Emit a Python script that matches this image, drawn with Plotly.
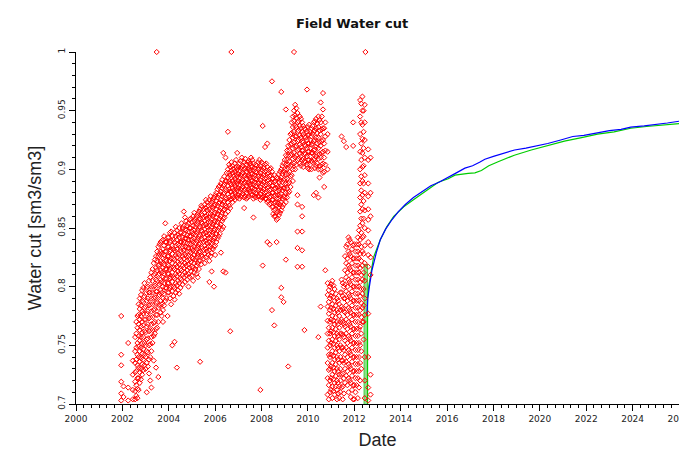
import plotly.graph_objects as go

# ---------------- data ----------------
# Observed water cut (red diamonds): (decimal year, [values observed around that date])
red_columns = [
    (2001.95, [.775, .742, .733, .719, .709, .703]),
    (2002.05, [.715, .706]),
    (2002.25, [.752, .714, .703]),
    (2002.45, [.737, .725, .712, .704]),
    (2002.55, [.757, .745, .735, .727, .719, .711, .704]),
    (2002.65, [.775, .765, .752, .742, .733, .722, .713, .705]),
    (2002.75, [.790, .781, .772, .763, .754, .745, .736, .727, .718]),
    (2002.85, [.797, .788, .779, .770, .761, .752, .743, .734, .725]),
    (2002.95, [.803, .792, .782, .772, .762, .752, .742, .733]),
    (2003.05, [.799, .788, .777, .766, .755, .745, .735, .710]),
    (2003.15, [.805, .795, .784, .773, .762, .750, .738, .726]),
    (2003.25, [.812, .800, .790, .779, .768, .757, .745, .714]),
    (2003.35, [.820, .810, .800, .790, .780, .769, .758, .737]),
    (2003.45, [.826, .816, .806, .796, .786, .776, .764, .731]),
    (2003.48, [1.0]),
    (2003.55, [.834, .826, .818, .810, .801, .792, .782, .770, .723]),
    (2003.65, [.838, .830, .822, .814, .806, .797, .788, .778]),
    (2003.75, [.840, .832, .824, .816, .808, .800, .790, .780, .770]),
    (2003.85, [.854, .838, .830, .823, .815, .807, .799, .788]),
    (2003.95, [.842, .834, .826, .819, .811, .803, .795, .775]),
    (2004.05, [.846, .838, .830, .822, .815, .807, .799, .790]),
    (2004.15, [.843, .835, .828, .820, .812, .804, .796, .750]),
    (2004.25, [.846, .838, .831, .823, .815, .807, .799, .789, .753]),
    (2004.35, [.848, .840, .832, .825, .817, .809, .801, .731]),
    (2004.45, [.850, .842, .835, .827, .819, .811, .803, .794]),
    (2004.55, [.854, .846, .838, .830, .822, .814, .806]),
    (2004.65, [.852, .845, .838, .831, .824, .816, .808, .864]),
    (2004.75, [.856, .848, .841, .834, .826, .818, .810]),
    (2004.85, [.854, .847, .840, .833, .826, .819, .811, .800]),
    (2004.95, [.858, .850, .843, .836, .829, .821, .813]),
    (2005.05, [.860, .852, .845, .838, .831, .824, .816, .805]),
    (2005.15, [.858, .851, .844, .837, .830, .823, .815]),
    (2005.25, [.862, .855, .848, .841, .834, .827, .820, .808]),
    (2005.35, [.866, .858, .851, .844, .837, .830, .822, .736]),
    (2005.45, [.868, .861, .854, .847, .840, .833, .826]),
    (2005.55, [.870, .863, .856, .849, .842, .835, .828, .820]),
    (2005.65, [.872, .865, .858, .851, .844, .837, .830]),
    (2005.75, [.874, .866, .859, .852, .845, .838, .831, .822, .804]),
    (2005.85, [.872, .865, .858, .851, .844, .837, .829, .813]),
    (2005.95, [.876, .869, .862, .855, .848, .841, .834, .800]),
    (2006.05, [.880, .873, .866, .859, .852, .845, .838]),
    (2006.15, [.885, .878, .871, .864, .857, .850, .843]),
    (2006.25, [.888, .881, .874, .867, .860, .853, .829]),
    (2006.35, [.914, .886, .879, .872, .865, .858, .851, .813]),
    (2006.45, [.910, .890, .883, .876, .869, .862, .812]),
    (2006.55, [.900, .893, .886, .879, .872, .864, .932]),
    (2006.65, [.902, .895, .888, .881, .874, .867, .762]),
    (2006.70, [1.0]),
    (2006.75, [.903, .897, .890, .884, .878, .872]),
    (2006.85, [.905, .898, .892, .886, .880, .874]),
    (2006.95, [.914, .900, .894, .888, .882, .876]),
    (2007.05, [.905, .899, .893, .887, .881, .875]),
    (2007.15, [.910, .902, .896, .890, .884, .878]),
    (2007.25, [.906, .900, .894, .888, .882, .876, .867]),
    (2007.35, [.904, .898, .892, .886, .880, .875]),
    (2007.45, [.907, .901, .895, .889, .883, .877]),
    (2007.55, [.910, .903, .897, .891, .885, .879]),
    (2007.65, [.905, .899, .893, .887, .881, .875, .859]),
    (2007.75, [.904, .898, .892, .886, .880, .876]),
    (2007.85, [.906, .900, .894, .888, .882, .877]),
    (2007.95, [.903, .897, .891, .885, .879, .874, .712]),
    (2008.05, [.937, .905, .899, .893, .887, .881, .876, .818]),
    (2008.15, [.904, .898, .892, .886, .880, .875, .919]),
    (2008.25, [.902, .896, .890, .884, .878, .872, .922, .838]),
    (2008.35, [.900, .894, .888, .882, .876, .870, .836]),
    (2008.45, [.975, .898, .892, .886, .880, .874, .868, .780]),
    (2008.55, [.895, .889, .883, .877, .871, .865, .860, .767]),
    (2008.65, [.893, .887, .881, .875, .869, .863, .857, .838]),
    (2008.75, [.896, .889, .882, .875, .868, .861]),
    (2008.85, [.966, .900, .893, .886, .879, .872, .865, .799, .791]),
    (2008.95, [.905, .898, .891, .884, .877, .870, .787]),
    (2009.05, [.951, .912, .904, .896, .888, .880, .872, .823]),
    (2009.15, [.920, .912, .904, .896, .888, .880, .732]),
    (2009.25, [.930, .921, .912, .903, .894, .885]),
    (2009.35, [.945, .936, .927, .918, .909, .900, .890]),
    (2009.40, [1.0]),
    (2009.45, [.955, .946, .937, .928, .919, .910, .900]),
    (2009.55, [.948, .940, .932, .924, .916, .908, .878, .870, .847, .833, .817]),
    (2009.65, [.945, .937, .929, .921, .913, .905]),
    (2009.75, [.940, .932, .924, .916, .908, .868, .860, .847, .831, .817]),
    (2009.85, [.935, .928, .921, .914, .907, .763]),
    (2009.96, [.968, .932, .925, .918, .911, .904]),
    (2010.05, [.938, .930, .922, .915, .908, .900]),
    (2010.15, [.935, .928, .921, .914, .907, .900]),
    (2010.25, [.940, .932, .924, .916, .908, .878]),
    (2010.35, [.943, .935, .927, .919, .911, .903, .880]),
    (2010.45, [.945, .936, .927, .918, .909, .900, .876, .757]),
    (2010.55, [.957, .940, .930, .920, .910, .900, .783]),
    (2010.65, [.965, .951, .935, .925, .915, .905, .897]),
    (2010.75, [.940, .928, .916, .904, .814]),
    (2010.85, [.930, .915, .900, .803, .793, .783, .771, .760, .748, .735, .722, .708]),
    (2010.95, [.800, .790, .780, .770, .760, .750, .740, .730, .720, .710]),
    (2011.05, [.805, .795, .785, .775, .765, .755, .745, .735, .725, .715, .705]),
    (2011.15, [.798, .788, .778, .768, .758, .748, .738, .728, .718, .708]),
    (2011.25, [.790, .780, .770, .760, .750, .740, .730, .720, .712, .704]),
    (2011.35, [.785, .775, .765, .755, .745, .735, .725, .715, .705]),
    (2011.45, [.928, .806, .795, .783, .772, .760, .748, .737, .725, .714]),
    (2011.55, [.924, .800, .790, .779, .768, .757, .746, .735, .722, .709]),
    (2011.65, [.919, .834, .820, .808, .796, .784, .772, .760, .748, .736, .724]),
    (2011.75, [.842, .830, .818, .806, .794, .782, .770, .758, .746, .734, .722, .710]),
    (2011.85, [.838, .826, .814, .802, .790, .778, .766, .754, .742, .730, .718, .706]),
    (2011.95, [.940, .920, .835, .824, .812, .800, .788, .776, .764, .752, .740, .728, .716, .704]),
    (2012.05, [.830, .818, .806, .794, .782, .770, .758, .746, .734, .722, .710]),
    (2012.15, [.842, .830, .818, .806, .794, .782, .770, .758, .746, .734, .722, .705]),
    (2012.25, [.959, .945, .930, .915, .900, .888, .876, .864, .852, .840, .828, .816,
               .804, .792, .780, .766, .750, .735, .720]),
    (2012.35, [.962, .950, .938, .926, .914, .902, .890, .878, .866, .854, .842, .830,
               .818, .806, .794, .782, .770]),
    (2012.45, [.955, .940, .925, .910, .895, .880, .865, .850, .835, .820, .805, .790,
               .776, .740, .720, .705]),
    (2012.48, [1.0]),
    (2012.60, [.917, .908, .888, .877, .866, .857, .848, .838, .827, .817, .777, .740, .714, .703]),
    (2012.70, [.910, .880, .860, .835, .825, .810, .725, .708]),
]

# Further observations read between the columns above
red_columns_b = [
    (2002.60, [.770, .760, .748, .738, .728, .716, .707]),
    (2002.70, [.785, .776, .768, .758, .749, .740, .731, .722, .712]),
    (2002.80, [.793, .784, .775, .766, .757, .748, .739, .730, .721]),
    (2002.90, [.799, .787, .777, .767, .757, .747, .738, .729]),
    (2003.00, [.794, .783, .772, .761, .750, .740, .730]),
    (2003.10, [.800, .790, .779, .768, .756, .744, .732]),
    (2003.20, [.808, .795, .785, .774, .763, .751, .740, .720]),
    (2003.30, [.815, .805, .795, .785, .774, .763, .752]),
    (2003.40, [.823, .811, .801, .791, .781, .770, .760]),
    (2003.50, [.830, .822, .814, .805, .796, .787, .776, .765]),
    (2003.60, [.836, .828, .819, .811, .802, .793, .784]),
    (2003.70, [.839, .828, .820, .812, .804, .795, .785, .775]),
    (2003.80, [.843, .835, .827, .819, .811, .803, .794, .784]),
    (2003.90, [.838, .830, .822, .815, .807, .799, .790]),
    (2004.00, [.842, .834, .826, .818, .811, .803, .795]),
    (2004.10, [.847, .839, .831, .824, .816, .808, .800, .785]),
    (2004.20, [.840, .832, .824, .816, .808, .800, .792]),
    (2004.30, [.851, .843, .835, .827, .819, .811, .803, .795]),
    (2004.40, [.844, .836, .828, .821, .813, .805, .797]),
    (2004.50, [.846, .838, .831, .823, .815, .807, .799]),
    (2004.60, [.850, .842, .834, .826, .818, .810, .802]),
    (2004.70, [.859, .849, .841, .834, .827, .820, .812, .804]),
    (2004.80, [.852, .844, .837, .830, .822, .814, .806]),
    (2004.90, [.857, .850, .843, .837, .830, .823, .816, .808]),
    (2005.00, [.855, .847, .840, .833, .825, .817, .809]),
    (2005.10, [.863, .856, .848, .841, .834, .827, .820, .812]),
    (2005.20, [.860, .853, .846, .839, .832, .825, .818, .811]),
    (2005.30, [.864, .857, .850, .843, .836, .829, .822, .815]),
    (2005.40, [.869, .862, .855, .848, .841, .834, .827, .819]),
    (2005.50, [.866, .859, .852, .845, .838, .831, .824]),
    (2005.60, [.874, .867, .860, .853, .846, .839, .832, .825]),
    (2005.70, [.869, .862, .855, .848, .841, .834, .827]),
    (2005.80, [.877, .870, .862, .855, .848, .841, .834, .826]),
    (2005.90, [.874, .867, .860, .853, .846, .839, .832]),
    (2006.00, [.878, .870, .863, .856, .849, .842, .835, .827]),
    (2006.10, [.883, .876, .869, .862, .855, .848, .841]),
    (2006.20, [.886, .879, .872, .865, .858, .851, .845]),
    (2006.30, [.891, .884, .877, .870, .863, .856, .849]),
    (2006.40, [.894, .887, .880, .873, .866, .859]),
    (2006.50, [.897, .890, .882, .875, .868]),
    (2006.60, [.904, .897, .890, .883, .876, .869]),
    (2006.70, [.906, .899, .893, .887, .881, .875]),
    (2006.80, [.900, .894, .888, .882, .876]),
    (2006.90, [.908, .902, .896, .890, .884, .878]),
    (2007.00, [.902, .896, .890, .884, .878]),
    (2007.10, [.907, .901, .895, .889, .883, .877]),
    (2007.20, [.903, .897, .891, .885, .879]),
    (2007.30, [.909, .901, .895, .889, .883, .877]),
    (2007.40, [.906, .900, .894, .888, .882, .876]),
    (2007.50, [.905, .899, .893, .887, .881]),
    (2007.60, [.908, .902, .896, .890, .884, .878]),
    (2007.70, [.901, .895, .889, .883, .877]),
    (2007.80, [.903, .897, .891, .885, .879]),
    (2007.90, [.908, .901, .895, .889, .883, .877]),
    (2008.00, [.906, .900, .894, .888, .882, .876]),
    (2008.10, [.901, .895, .889, .883, .877]),
    (2008.20, [.905, .899, .893, .887, .881, .875]),
    (2008.30, [.897, .891, .885, .879, .873]),
    (2008.40, [.901, .895, .889, .883, .877, .871]),
    (2008.50, [.892, .886, .880, .874, .868, .862]),
    (2008.60, [.890, .884, .878, .872, .866, .860]),
    (2008.70, [.892, .885, .878, .871, .864, .858]),
    (2008.80, [.898, .891, .884, .877, .870, .863]),
    (2008.90, [.903, .896, .889, .882, .875, .868]),
    (2009.00, [.908, .900, .892, .884, .876]),
    (2009.10, [.916, .908, .900, .892, .884, .876]),
    (2009.20, [.925, .916, .907, .898, .889, .881]),
    (2009.30, [.940, .931, .922, .913, .904, .895]),
    (2009.40, [.950, .941, .932, .923, .914, .905]),
    (2009.50, [.952, .944, .936, .928, .920, .912, .904]),
    (2009.60, [.941, .933, .925, .917, .909]),
    (2009.70, [.943, .935, .927, .919, .911, .903]),
    (2009.80, [.937, .930, .923, .916, .909, .902]),
    (2009.90, [.934, .927, .920, .913, .906]),
    (2010.00, [.936, .929, .922, .915, .908, .901]),
    (2010.10, [.932, .925, .918, .911, .904]),
    (2010.20, [.937, .930, .922, .914, .906]),
    (2010.30, [.941, .933, .925, .917, .909, .901]),
    (2010.40, [.939, .931, .922, .913, .905]),
    (2010.50, [.942, .933, .923, .913, .903, .893]),
    (2010.60, [.945, .934, .924, .914, .904]),
    (2010.70, [.935, .922, .910, .898, .885]),
    (2010.90, [.797, .787, .777, .765, .754, .742, .729, .716, .704]),
    (2011.00, [.802, .792, .782, .772, .762, .752, .742, .732, .722, .712]),
    (2011.10, [.801, .791, .781, .771, .761, .751, .741, .731, .721, .711]),
    (2011.20, [.794, .784, .774, .764, .754, .744, .734, .724, .715]),
    (2011.30, [.788, .778, .768, .758, .748, .738, .728, .718, .709]),
    (2011.40, [.795, .780, .770, .760, .750, .740, .730, .720, .710]),
    (2011.50, [.803, .792, .781, .770, .759, .748, .737, .726, .715, .704]),
    (2011.60, [.826, .814, .802, .790, .778, .766, .754, .742, .730, .718]),
    (2011.70, [.836, .824, .812, .800, .788, .776, .764, .752, .740, .728, .716]),
    (2011.80, [.840, .828, .816, .804, .792, .780, .768, .756, .744, .732, .720]),
    (2011.90, [.832, .820, .808, .796, .784, .772, .760, .748, .736, .724, .712]),
    (2012.00, [.836, .824, .812, .800, .788, .776, .764, .752, .740, .728, .716, .704]),
    (2012.10, [.836, .824, .812, .800, .788, .776, .764, .752, .740, .728, .716]),
    (2012.20, [.848, .836, .824, .812, .800, .788, .776, .764, .752, .740, .728, .714]),
    (2012.30, [.956, .940, .922, .908, .894, .882, .870, .858, .846, .834, .822, .810,
               .798, .786, .774, .760, .745, .730]),
    (2012.40, [.950, .932, .918, .903, .888, .873, .858, .843, .828, .812, .798, .784,
               .770, .755]),
]

# Simulated water cut, case 1 (blue)
blue_years = [2012.55, 2012.58, 2012.65, 2012.76, 2012.95, 2013.12, 2013.35, 2013.62, 2013.90,
              2014.20, 2014.55, 2014.90, 2015.30, 2015.65, 2016.05, 2016.40, 2016.77, 2017.10,
              2017.40, 2017.63, 2018.00, 2018.50, 2018.91, 2019.40, 2019.90, 2020.34, 2020.90,
              2021.42, 2021.90, 2022.49, 2023.00, 2023.50, 2023.92, 2024.50, 2025.00, 2025.50, 2026.00]
blue_values = [0.777, 0.790, 0.800, 0.814, 0.829, 0.840, 0.849, 0.857, 0.864,
               0.870, 0.876, 0.881, 0.886, 0.889, 0.893, 0.897, 0.901, 0.903,
               0.906, 0.9086, 0.911, 0.914, 0.9165, 0.918, 0.920, 0.922, 0.925,
               0.928, 0.929, 0.931, 0.933, 0.934, 0.936, 0.937, 0.938, 0.9395, 0.941]

# Simulated water cut, case 2 (green)
green_start_years = [2012.42, 2012.42, 2012.57, 2012.57]
green_start_values = [0.69, 0.819, 0.819, 0.69]
green_years = [2012.57, 2012.57, 2012.62, 2012.70, 2012.83, 2013.12, 2013.40, 2013.70, 2014.13,
               2014.55, 2015.10, 2015.62, 2016.05, 2016.34, 2016.91, 2017.20, 2017.48, 2017.80,
               2018.20, 2018.90, 2019.63, 2020.30, 2021.06, 2021.80, 2022.49, 2023.20, 2023.92,
               2024.60, 2025.30, 2026.00]
green_values = [0.69, 0.789, 0.800, 0.811, 0.825, 0.840, 0.851, 0.860, 0.868,
                0.874, 0.882, 0.889, 0.892, 0.895, 0.8966, 0.897, 0.899, 0.903,
                0.9065, 0.912, 0.9165, 0.920, 0.924, 0.927, 0.930, 0.932, 0.935,
                0.9365, 0.9378, 0.939]

x_tick_years = list(range(2000, 2027, 2))
y_tick_values = [0.7, 0.75, 0.8, 0.85, 0.9, 0.95, 1.0]
y_tick_labels = ["0.7", "0.75", "0.8", "0.85", "0.9", "0.95", "1"]

# ---------------- figure ----------------
red_x, red_y = [], []
for yr, vals in red_columns + red_columns_b:
    for v in vals:
        red_x.append(yr)
        red_y.append(v)

fig = go.Figure()
fig.add_trace(go.Scatter(
    x=green_start_years, y=green_start_values, mode="lines", fill="toself",
    fillcolor="rgba(120,220,120,0.85)", line=dict(color="rgba(60,200,60,0.9)", width=1),
    hoverinfo="skip"))
fig.add_trace(go.Scatter(
    x=green_years, y=green_values, mode="lines",
    line=dict(color="rgb(0,205,0)", width=1.2)))
fig.add_trace(go.Scatter(
    x=blue_years, y=blue_values, mode="lines",
    line=dict(color="rgb(0,0,255)", width=1.2)))
fig.add_trace(go.Scatter(
    x=red_x, y=red_y, mode="markers", cliponaxis=False,
    marker=dict(symbol="diamond-open", size=4, color="rgb(255,0,0)",
                line=dict(width=1, color="rgb(255,0,0)"))))

tick_font = dict(family="DejaVu Sans", size=9, color="#222")
fig.update_layout(
    width=679, height=450, template="none",
    margin=dict(l=76, r=0, t=52, b=46, pad=0),
    paper_bgcolor="white", plot_bgcolor="white", showlegend=False,
    title=dict(text="<b>Field Water cut</b>", x=352 / 679, xref="container", xanchor="center",
               y=1 - 23 / 450, yref="container", yanchor="middle",
               font=dict(family="DejaVu Sans", size=13, color="#111")),
    xaxis=dict(range=[2000, 2026.0], tickmode="array", tickvals=x_tick_years,
               ticktext=[str(v) for v in x_tick_years], ticks="outside", ticklen=6,
               tickcolor="black", showline=True, linecolor="black", linewidth=1,
               showgrid=False, zeroline=False, tickfont=tick_font, automargin=False,
               ticklabeloverflow="allow",
               minor=dict(dtick=1 / 3, tick0=2000, ticks="outside", ticklen=3,
                          tickcolor="black", showgrid=False),
               title=dict(text="Date", font=dict(family="Liberation Sans", size=18, color="#222"),
                          standoff=12)),
    yaxis=dict(range=[0.7, 1.0], tickmode="array", tickvals=y_tick_values,
               ticktext=y_tick_labels, tickangle=-90, ticks="outside", ticklen=6,
               tickcolor="black", showline=True, linecolor="black", linewidth=1,
               showgrid=False, zeroline=False, tickfont=tick_font, automargin=False,
               minor=dict(dtick=0.01, tick0=0.7, ticks="outside", ticklen=3,
                          tickcolor="black", showgrid=False),
               title=dict(text="Water cut [sm3/sm3]",
                          font=dict(family="Liberation Sans", size=18, color="#222"),
                          standoff=11)),
)

fig.write_html("out.html")
